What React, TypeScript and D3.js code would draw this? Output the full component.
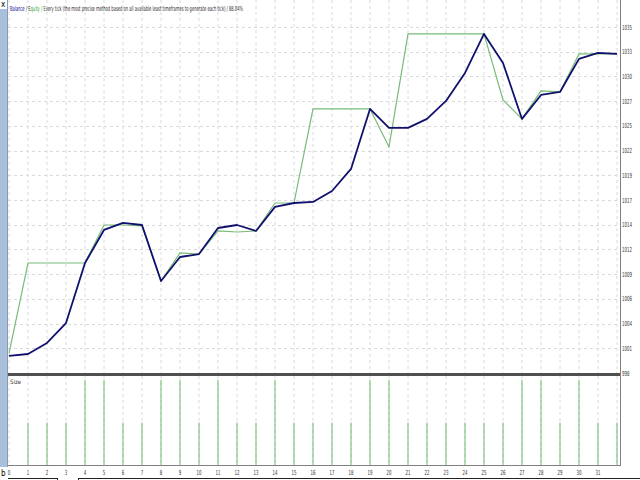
import React from "react";
import * as d3 from "d3";

const xLabels = ["0","1","2","3","4","5","6","7","8","9","10","11","12","13","14","15","16","17","18","19","20","21","22","23","24","25","26","27","28","29","30","31"];
const yTickLabels = ["998","1001","1004","1006","1009","1012","1014","1017","1019","1022","1025","1027","1030","1033","1035"];
const yMin = 998.35;
const yStep = 2.64;

const balance = [1000.17,1000.38,1001.56,1003.69,1010.10,1013.63,1014.38,1014.16,1008.18,1010.74,1011.06,1013.84,1014.16,1013.52,1016.09,1016.51,1016.62,1017.79,1020.15,1026.56,1024.53,1024.53,1025.49,1027.41,1030.40,1034.57,1031.47,1025.49,1028.05,1028.37,1031.90,1032.54,1032.43];
const equity = [1000.45,1010.10,1010.10,1010.10,1010.10,1014.16,1014.16,1014.06,1008.18,1011.17,1011.06,1013.52,1013.41,1013.52,1016.51,1016.51,1026.56,1026.56,1026.56,1026.56,1022.50,1034.57,1034.57,1034.57,1034.57,1034.57,1027.52,1025.49,1028.48,1028.37,1032.43,1032.43,1032.43];
const sizes = [0,1,1,1,2,2,1,1,2,2,1,2,1,1,2,1,1,1,1,2,2,1,1,1,1,1,1,2,2,1,2,1,1];

const legendText = "Balance / Equity / Every tick (the most precise method based on all available least timeframes to generate each tick) / 88.04%";

export default function App() {
  const W = 640, H = 480;
  const left = 8, right = 620, top = 0, mainBottom = 373, sizeTop = 376, sizeBottom = 465;
  const x = d3.scaleLinear().domain([0, 32]).range([9, 617]);
  const y = d3.scaleLinear().domain([yMin, yMin + yStep * (yTickLabels.length - 1)]).range([mainBottom, 27]);
  const ys = d3.scaleLinear().domain([0, 2]).range([sizeBottom, 380]);
  const line = d3.line<number>().x((_, i) => x(i)).y((d) => y(d));
  const font = "'Liberation Sans Narrow','DejaVu Sans Condensed','Liberation Sans',sans-serif";
  const gridIdx = d3.range(0, 33);
  const yTicks = yTickLabels.map((_, k) => yMin + k * yStep);

  // legend colour stops (x in px)
  const navy = "#1a1a8c", gray = "#333333", green = "#2e9a2e";
  const stops: [number, string][] = [[0, navy], [26.5, navy], [26.5, gray], [30.2, gray], [30.2, green], [44.2, green], [44.2, gray], [640, gray]];

  return (
    <svg width={W} height={H} style={{ position: "absolute", left: 0, top: 0, background: "#fff" }} fontFamily={font}>
      <defs>
        <linearGradient id="legendFill" gradientUnits="userSpaceOnUse" x1={0} y1={0} x2={640} y2={0}>
          {stops.map(([p, c], k) => (
            <stop key={k} offset={p / 640} stopColor={c} />
          ))}
        </linearGradient>
      </defs>
      <rect x={0} y={0} width={W} height={H} fill="#ffffff" />
      {/* left window strip */}
      <rect x={0} y={9} width={7} height={458} fill="#a9c0dc" />
      <line x1={7.5} y1={0} x2={7.5} y2={467} stroke="#8a9bb0" strokeWidth={1} />
      <text x={1} y={7} fontSize={8} fill="#000">x</text>
      <text x={1} y={476} fontSize={8} fill="#000">b</text>

      {/* vertical grid */}
      {gridIdx.map((i) => (
        <g key={"vg" + i}>
          <line x1={x(i)} x2={x(i)} y1={top} y2={mainBottom} stroke="#dadada" strokeDasharray="3,3" strokeWidth={1} />
          <line x1={x(i)} x2={x(i)} y1={sizeTop} y2={sizeBottom} stroke="#dadada" strokeDasharray="3,3" strokeWidth={1} />
        </g>
      ))}
      {/* horizontal grid */}
      {yTicks.map((v, k) => (
        <line key={"hg" + k} x1={left} x2={right} y1={Math.round(y(v)) + 0.5} y2={Math.round(y(v)) + 0.5} stroke="#dadada" strokeDasharray="3,3" strokeWidth={1} />
      ))}

      {/* legend */}
      <text x={10} y={11} fontSize={7} fill="url(#legendFill)" textLength={233} lengthAdjust="spacingAndGlyphs">{legendText}</text>

      {/* lines */}
      <path d={line(equity) || ""} fill="none" stroke="#78bb78" strokeWidth={1.2} />
      <path d={line(balance) || ""} fill="none" stroke="#10106e" strokeWidth={1.8} strokeLinejoin="round" />

      {/* separator */}
      <rect x={left} y={mainBottom} width={right - left} height={3} fill="#505050" />

      {/* size panel */}
      <text x={10} y={384} fontSize={6} fill="#333">Size</text>
      {sizes.map((s, i) => s > 0 ? (
        <line key={"sz" + i} x1={x(i)} x2={x(i)} y1={ys(s)} y2={sizeBottom} stroke="#6fb96f" strokeWidth={1} />
      ) : null)}

      {/* frame */}
      <line x1={right + 0.5} x2={right + 0.5} y1={0} y2={sizeBottom + 1} stroke="#808080" />
      <line x1={left} x2={right + 1} y1={sizeBottom + 0.5} y2={sizeBottom + 0.5} stroke="#808080" />

      {/* right axis */}
      {yTicks.map((v, k) => (
        <text key={"yl" + k} x={622} y={y(v) + 2.5} fontSize={7} fill="#333" textLength={yTickLabels[k].length === 4 ? 10 : 7.5} lengthAdjust="spacingAndGlyphs">{yTickLabels[k]}</text>
      ))}

      {/* x axis labels */}
      {xLabels.map((l, i) => (
        <text key={"xl" + i} x={x(i)} y={475} fontSize={7} fill="#333" textAnchor="middle" textLength={l.length === 2 ? 5 : 2.5} lengthAdjust="spacingAndGlyphs">{l}</text>
      ))}

      {/* bottom tab strip */}
      <line x1={8} x2={57} y1={478.5} y2={478.5} stroke="#222" />
      <line x1={57.5} x2={57.5} y1={478} y2={480} stroke="#222" />
      <line x1={78} x2={640} y1={478.5} y2={478.5} stroke="#222" />
      <line x1={78.5} x2={78.5} y1={478} y2={480} stroke="#222" />
    </svg>
  );
}
